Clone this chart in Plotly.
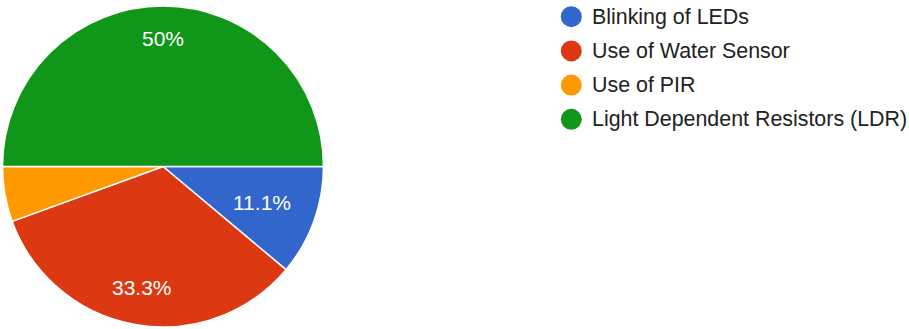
import math
import plotly.graph_objects as go

labels = ["Blinking of LEDs", "Use of Water Sensor", "Use of PIR", "Light Dependent Resistors (LDR)"]
values = [2, 6, 1, 9]
colors = ["#3366cc", "#dc3912", "#ff9900", "#109618"]

W, H = 909, 329
FONT = "Arial, Liberation Sans, sans-serif"
LABEL_SIZE = 21
LEGEND_SIZE = 21.4

total = sum(values)
def fmt(v):
    p = round(v / total * 100, 1)
    s = f"{p:.1f}".rstrip("0").rstrip(".")
    return s + "%"

# approximate Arial advance widths (em)
CW = {".": 0.278, "%": 0.889}
def text_w(s, size):
    return sum(CW.get(c, 0.556) for c in s) * size

# pie geometry (pixels)
cx, cy, R = 163.0, 166.5, 160.5

fig = go.Figure()
fig.add_trace(go.Pie(
    labels=labels, values=values, textinfo="none",
    sort=False, direction="clockwise", rotation=90,
    marker=dict(colors=colors, line=dict(color="white", width=1.5)),
    showlegend=False, hoverinfo="label+percent",
    domain=dict(x=[2 / W, 324 / W], y=[1 - 327 / H, 1 - 6 / H]),
))

# slice labels placed Google-style (outer corner of text box at ~0.845R)
annotations = []
cum = 0.0
for v in values:
    frac = v / total
    mid = (cum + frac / 2) * 2 * math.pi  # clockwise from 3 o'clock
    cum += frac
    if frac < 0.08:
        continue
    t = fmt(v)
    hw = text_w(t, LABEL_SIZE) / 2
    hh = LABEL_SIZE * 0.716 / 2
    dx, dy = math.cos(mid), math.sin(mid)
    r = 0.845 * R - (hw * abs(dx) + hh * abs(dy))
    px, py = cx + r * dx, cy + r * dy
    annotations.append(dict(
        x=px / W, y=1 - py / H, xref="paper", yref="paper",
        text=t, showarrow=False, xanchor="center", yanchor="middle",
        font=dict(family=FONT, size=LABEL_SIZE, color="white"),
    ))

# custom legend with round markers
shapes = []
LX, LY0, LDY, LRAD, LTX = 571.3, 16.7, 34.2, 10.5, 589.5
for i, (lab, col) in enumerate(zip(labels, colors)):
    yc = LY0 + i * LDY
    shapes.append(dict(
        type="circle", xref="paper", yref="paper",
        x0=(LX - LRAD) / W, x1=(LX + LRAD) / W,
        y0=1 - (yc + LRAD) / H, y1=1 - (yc - LRAD) / H,
        fillcolor=col, line=dict(width=0),
    ))
    annotations.append(dict(
        x=LTX / W, y=1 - yc / H, xref="paper", yref="paper",
        text=lab, showarrow=False, xanchor="left", yanchor="middle",
        font=dict(family=FONT, size=LEGEND_SIZE, color="#222222"),
    ))

fig.update_layout(
    width=W, height=H,
    margin=dict(l=0, r=0, t=0, b=0),
    paper_bgcolor="white", plot_bgcolor="white",
    showlegend=False,
    annotations=annotations, shapes=shapes,
)
fig.write_html("out.html", config={"displayModeBar": False},
               post_script="document.body.style.margin='0px';")
